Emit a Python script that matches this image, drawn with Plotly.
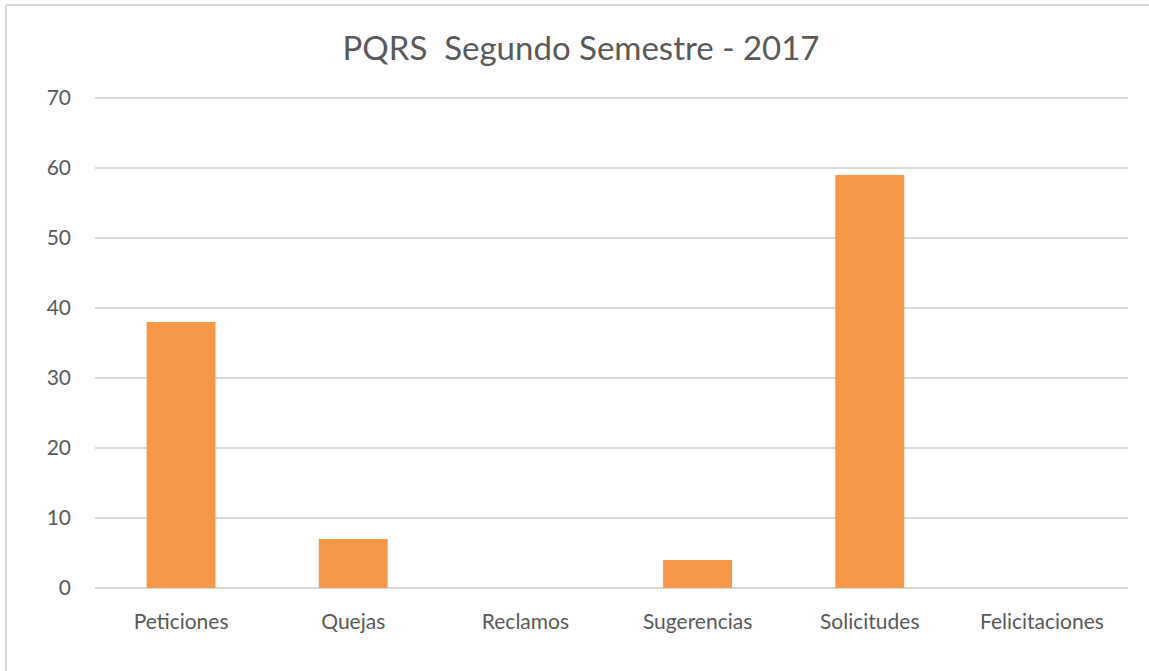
import plotly.graph_objects as go

categories = ["Peticiones", "Quejas", "Reclamos", "Sugerencias", "Solicitudes", "Felicitaciones"]
values = [38, 7, 0, 4, 59, 0]
y_ticks = [0, 10, 20, 30, 40, 50, 60, 70]

W, H = 1149, 671
L, R, T, B = 95, 21, 95, 83
pw, ph = W - L - R, H - T - B
y_top = ph / 7.0  # 7 px per unit so that 70 lands at y=98

fig = go.Figure(go.Bar(x=categories, y=values, marker=dict(color="#F79646", line=dict(width=0)),
                       hoverinfo="x+y"))

FONT = "Lato, Open Sans, sans-serif"
bx0 = (6 - L) / pw
bx1 = (W + 20 - L) / pw
by_top = (H - 5 - B) / ph
by_bot = -(H + 20 - T - ph) / ph

fig.update_layout(
    width=W, height=H,
    margin=dict(l=L, r=R, t=T, b=B),
    paper_bgcolor="white", plot_bgcolor="white",
    bargap=0.6,
    showlegend=False,
    font=dict(family=FONT, color="#595959", size=21),
    title=dict(text="PQRS&nbsp;&nbsp;Segundo Semestre - 2017", x=581 / W, xref="container", y=1 - 48 / H,
               yref="container", yanchor="middle", xanchor="center",
               font=dict(size=33, color="#595959", family=FONT)),
    xaxis=dict(showgrid=False, showline=False, ticks="", ticklabelstandoff=19,
               tickfont=dict(size=21, color="#595959")),
    yaxis=dict(range=[0, y_top], tickvals=y_ticks, showgrid=True, gridcolor="#D9D9D9", gridwidth=2,
               zeroline=True, zerolinecolor="#D9D9D9", zerolinewidth=2, showline=False, ticks="",
               ticklabelstandoff=23, tickfont=dict(size=21, color="#595959")),
    shapes=[
        dict(type="line", xref="paper", yref="paper", x0=bx0, x1=bx0, y0=by_bot, y1=by_top,
             line=dict(color="#D9D9D9", width=2)),
        dict(type="line", xref="paper", yref="paper", x0=bx0, x1=bx1, y0=by_top, y1=by_top,
             line=dict(color="#D9D9D9", width=2)),
    ],
)

fig.write_html("out.html", config={"displayModeBar": False},
               post_script="document.body.style.margin='0';document.body.style.overflow='hidden';")
